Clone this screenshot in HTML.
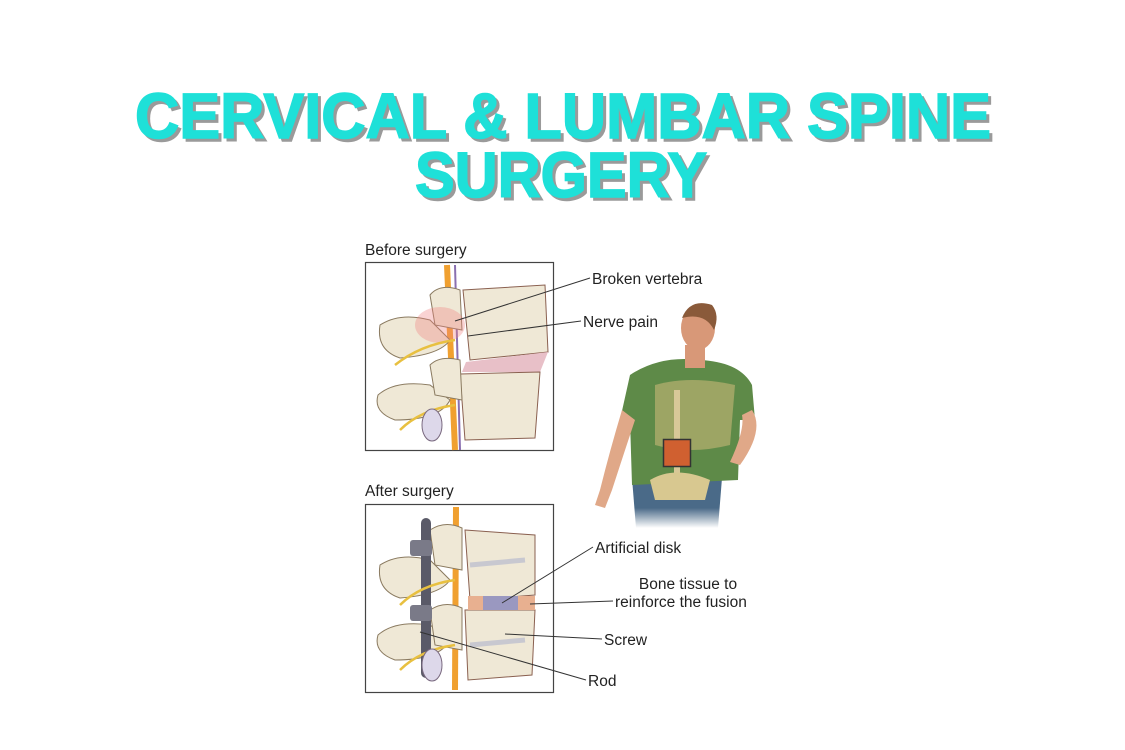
<!DOCTYPE html>
<html><head><meta charset="utf-8"><style>
html,body{margin:0;padding:0;background:#fff;}
svg{display:block;}
</style></head><body>
<svg width="1125" height="750" viewBox="0 0 1125 750" xmlns="http://www.w3.org/2000/svg">
<rect width="1125" height="750" fill="#fff"/>
<g font-family="Liberation Sans, sans-serif" font-weight="bold" font-size="64">
<text x="138" y="141" textLength="856" lengthAdjust="spacingAndGlyphs" fill="#9a9a9a" stroke="#9a9a9a" stroke-width="1.5">CERVICAL &amp; LUMBAR SPINE</text>
<text x="135" y="138" textLength="856" lengthAdjust="spacingAndGlyphs" fill="#1ee0d8" stroke="#1ee0d8" stroke-width="1.5">CERVICAL &amp; LUMBAR SPINE</text>
<text x="418" y="200" textLength="292" lengthAdjust="spacingAndGlyphs" fill="#9a9a9a" stroke="#9a9a9a" stroke-width="1.5">SURGERY</text>
<text x="415" y="197" textLength="292" lengthAdjust="spacingAndGlyphs" fill="#1ee0d8" stroke="#1ee0d8" stroke-width="1.5">SURGERY</text>
</g>
<!-- Before box -->
<rect x="365.5" y="262.5" width="188" height="188" fill="#fff" stroke="#444" stroke-width="1.2"/>
<g>
<path d="M447 265 L455 450" stroke="#f0a030" stroke-width="6"/>
<path d="M455 265 L460 450" stroke="#8a70b0" stroke-width="2"/>
<path d="M463 290 L545 285 L548 352 L470 360 Z" fill="#efe8d6" stroke="#8a6050" stroke-width="1"/>
<path d="M466 362 L548 352 L540 372 L462 372 Z" fill="#e8c0c8"/>
<path d="M460 374 L540 372 L535 438 L465 440 Z" fill="#efe8d6" stroke="#8a6050" stroke-width="1"/>
<path d="M380 325 Q400 312 430 320 L450 340 Q440 355 400 358 Q376 350 380 325Z" fill="#efe8d6" stroke="#8a7a60" stroke-width="1"/>
<path d="M378 395 Q395 380 430 385 L450 400 Q440 420 395 420 Q373 412 378 395Z" fill="#efe8d6" stroke="#8a7a60" stroke-width="1"/>
<path d="M430 295 Q440 283 460 290 L462 330 L435 325 Z" fill="#efe8d6" stroke="#8a7a60" stroke-width="1"/>
<path d="M430 365 Q440 355 460 360 L462 400 L435 395 Z" fill="#efe8d6" stroke="#8a7a60" stroke-width="1"/>
<ellipse cx="440" cy="325" rx="25" ry="18" fill="#f08080" opacity="0.35"/>
<path d="M455 340 Q420 345 395 365" stroke="#e8c040" stroke-width="2.5" fill="none"/>
<path d="M455 405 Q420 410 400 430" stroke="#e8c040" stroke-width="2.5" fill="none"/>
<ellipse cx="432" cy="425" rx="10" ry="16" fill="#ddd8ea" stroke="#7a6a80"/>
</g>
<!-- After box -->
<rect x="365.5" y="504.5" width="188" height="188" fill="#fff" stroke="#444" stroke-width="1.2"/>
<g>
<path d="M456 507 L455 690" stroke="#f0a030" stroke-width="6"/>
<path d="M465 530 L535 535 L535 595 L470 600 Z" fill="#efe8d6" stroke="#8a6050" stroke-width="1"/>
<path d="M465 610 L535 610 L532 675 L468 680 Z" fill="#efe8d6" stroke="#8a6050" stroke-width="1"/>
<rect x="468" y="596" width="67" height="14" fill="#e8b090"/>
<rect x="483" y="596" width="35" height="14" fill="#9a98c0"/>
<path d="M470 565 L525 560" stroke="#c8c8d0" stroke-width="5"/>
<path d="M470 645 L525 640" stroke="#c8c8d0" stroke-width="5"/>
<path d="M380 565 Q400 552 430 560 L450 580 Q440 595 400 598 Q376 590 380 565Z" fill="#efe8d6" stroke="#8a7a60" stroke-width="1"/>
<path d="M378 635 Q395 620 430 625 L450 640 Q440 660 395 660 Q373 652 378 635Z" fill="#efe8d6" stroke="#8a7a60" stroke-width="1"/>
<path d="M430 530 Q445 520 462 528 L462 570 L435 565 Z" fill="#efe8d6" stroke="#8a7a60" stroke-width="1"/>
<path d="M430 610 Q445 600 462 608 L462 650 L435 645 Z" fill="#efe8d6" stroke="#8a7a60" stroke-width="1"/>
<rect x="421" y="518" width="10" height="160" rx="5" fill="#5a5a68"/>
<rect x="410" y="540" width="22" height="16" rx="3" fill="#7a7a88"/>
<rect x="410" y="605" width="22" height="16" rx="3" fill="#7a7a88"/>
<path d="M455 580 Q420 585 400 605" stroke="#e8c040" stroke-width="2.5" fill="none"/>
<path d="M455 645 Q420 650 400 670" stroke="#e8c040" stroke-width="2.5" fill="none"/>
<ellipse cx="432" cy="665" rx="10" ry="16" fill="#ddd8ea" stroke="#7a6a80"/>
</g>
<!-- person -->
<g>
<defs><linearGradient id="fade" x1="0" y1="0" x2="0" y2="1"><stop offset="0.6" stop-color="#4a6a88"/><stop offset="1" stop-color="#fff"/></linearGradient></defs>
<path d="M632 478 L722 478 L718 528 L636 528 Z" fill="url(#fade)"/>
<path d="M630 375 Q660 355 700 360 Q740 362 752 385 L755 420 L740 420 L738 480 L632 485 L630 420 L620 420 Z" fill="#5e8a48"/>
<path d="M622 410 Q610 450 600 490 L595 505 L605 508 L612 490 Q625 450 635 420 Z" fill="#e0a888"/>
<path d="M752 410 Q765 430 740 465 L730 462 Q745 430 742 415 Z" fill="#e0a888"/>
<path d="M685 345 L705 345 L705 368 L685 368 Z" fill="#d89878"/>
<ellipse cx="698" cy="328" rx="17" ry="22" fill="#d89878"/>
<path d="M682 318 Q690 298 712 305 Q720 315 714 330 Q705 312 682 318Z" fill="#8a5a3a"/>
<path d="M655 385 Q690 375 735 385 L730 445 Q690 455 655 445 Z" fill="#c8b878" opacity="0.6"/>
<rect x="674" y="390" width="6" height="90" fill="#d8c898"/>
<path d="M650 480 Q675 465 710 480 L705 500 L655 500 Z" fill="#d8c890"/>
<rect x="663.5" y="439.5" width="27" height="27" fill="#d06030" stroke="#333" stroke-width="1.5"/>
</g>
<!-- labels -->
<g font-family="Liberation Sans, sans-serif" font-size="15.5" fill="#222">
<text x="365" y="255">Before surgery</text>
<text x="592" y="284">Broken vertebra</text>
<text x="583" y="327">Nerve pain</text>
<text x="365" y="496">After surgery</text>
<text x="595" y="553">Artificial disk</text>
<text x="688" y="589" text-anchor="middle">Bone tissue to</text>
<text x="615" y="607">reinforce the fusion</text>
<text x="604" y="645">Screw</text>
<text x="588" y="686">Rod</text>
</g>
<g stroke="#333" stroke-width="1" fill="none">
<path d="M590 278 L455 321"/>
<path d="M581 321 L468 336"/>
<path d="M593 547 L502 603"/>
<path d="M613 601 L530 604"/>
<path d="M602 639 L505 634"/>
<path d="M586 680 L420 632"/>
</g>
</svg>
</body></html>
